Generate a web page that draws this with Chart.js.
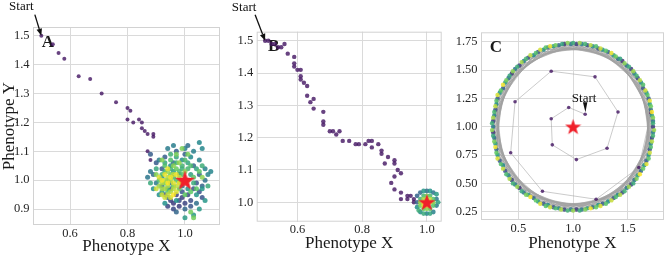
<!DOCTYPE html>
<html>
<head>
<meta charset="utf-8">
<script src="https://cdn.jsdelivr.net/npm/chart.js@4.4.1/dist/chart.umd.min.js"></script>
<style>
  body { margin: 0; background: #fff; width: 669px; height: 255px; overflow: hidden; position: relative; }
  canvas { position: absolute; top: 0; }
</style>
</head>
<body>
<canvas id="panel-a" width="225" height="255" style="left:0"></canvas>
<canvas id="panel-b" width="222" height="255" style="left:225px"></canvas>
<canvas id="panel-c" width="222" height="255" style="left:447px"></canvas>
<script>
const serif = "'Liberation Serif', 'DejaVu Serif', serif";
Chart.defaults.font.family = serif;
Chart.defaults.color = '#262626';

// panel A: walk from the start, then the cloud around the optimum
const pathA = [[0.50,1.50],[0.54,1.47],[0.56,1.44],[0.58,1.42],[0.63,1.36],[0.67,1.35],[0.71,1.30],[0.76,1.27],[0.80,1.25],[0.81,1.24],[0.80,1.21],[0.82,1.20],[0.84,1.21],[0.85,1.20],[0.85,1.18],[0.86,1.17],[0.87,1.16],[0.89,1.16],[0.89,1.15],[0.87,1.10],[0.88,1.07]];
const cloudA = [
  [0.96,0.92],[0.98,0.91],[0.95,0.93],[0.99,0.94],[0.97,0.95],[1.00,0.92],[0.94,0.91],[1.01,0.95],[0.96,0.90],[0.98,0.93],[1.02,0.93],[0.93,0.95],[1.03,0.97],[1.05,0.96],[1.04,0.99],[1.06,0.94],[1.02,0.91],[0.99,0.96],[0.95,0.97],[0.92,1.04],[0.90,1.06],[0.88,1.09],[0.93,1.08],[0.97,1.10],[1.00,1.09],[1.05,1.02],[1.06,0.98],[0.97,0.89],[1.00,0.90],[0.94,0.94],[1.03,1.05],[0.96,1.06],[0.89,1.02],[1.01,1.12],[0.98,1.02],[1.04,0.92],[0.92,0.98],[1.07,1.00],[0.95,0.99],[0.99,0.98],
  [0.87,1.01],[0.88,1.03],[0.90,0.99],[0.91,1.07],[0.94,1.11],[0.96,1.12],[1.00,1.11],[1.03,1.10],[1.05,1.07],[1.07,1.04],[1.08,1.02],[1.09,1.03],[1.06,1.11],[1.05,1.13],[1.02,1.08],[0.99,1.07],[0.95,1.05],[0.92,1.01],[0.89,0.97],[0.91,0.95],[0.93,0.92],[0.97,0.93],[1.01,0.97],[1.04,0.95],[1.06,0.97],[1.07,0.93],[1.05,0.90],[1.03,0.88],[1.00,0.87],[0.98,0.99],[0.96,1.03],[0.94,0.97],[0.92,0.96],[1.02,1.02],[1.04,1.04],[1.01,1.06],[0.97,1.08],[0.93,1.06],[0.90,1.04],[0.88,0.99],[1.08,0.98],[1.03,0.99],[0.99,1.04],[1.06,1.05],[0.95,1.09],
  [0.93,1.03],[0.95,1.04],[0.97,1.06],[0.99,1.05],[1.01,1.04],[0.96,1.01],[0.94,1.00],[0.92,1.02],[0.98,1.03],[1.00,1.07],[1.02,1.05],[0.95,1.07],[0.93,1.05],[0.91,1.00],[0.97,1.00],[0.99,1.02],[0.96,0.98],[0.94,0.96],[1.03,1.01],[1.05,1.03],[1.04,0.97],[1.02,0.96],[1.00,0.95],[0.98,0.97],[0.97,1.04],[0.95,1.02],[0.93,0.99],[1.02,0.89],[1.03,0.87],[1.01,1.09],[0.97,1.09],[0.99,1.11],[0.92,1.07],[0.90,1.02],[0.96,1.05],[1.00,1.03],[1.06,1.01],[0.98,1.06],[0.94,1.03],[1.01,1.00],
  [0.91,0.98],[0.92,0.97],[0.93,0.97],[0.94,0.98],[0.95,0.96],[0.93,1.00],[0.92,0.99],[0.94,1.01],[0.96,0.97],[0.95,1.00],[0.97,0.98],[0.96,1.02],[0.98,1.01],[0.94,0.95],[0.92,0.95],[0.90,0.97],[0.93,0.94],[0.95,0.94],[0.97,0.96],[0.99,1.00],[0.91,1.01],[0.96,0.99],[0.94,1.04],[0.97,1.02],[0.93,1.02],[0.95,1.01],[0.92,1.00],[0.98,0.99],[0.96,0.95],[0.94,0.99]
];

// panel B
const pathB = [[0.50,1.50],[0.51,1.50],[0.52,1.49],[0.53,1.49],[0.54,1.48],[0.55,1.48],[0.56,1.49],[0.57,1.46],[0.59,1.45],[0.59,1.43],[0.59,1.42],[0.60,1.41],[0.61,1.41],[0.61,1.39],[0.61,1.38],[0.62,1.37],[0.63,1.36],[0.63,1.33],[0.65,1.32],[0.64,1.31],[0.65,1.29],[0.68,1.28],[0.68,1.25],[0.68,1.24],[0.70,1.22],[0.71,1.22],[0.72,1.21],[0.73,1.22],[0.74,1.19],[0.76,1.19],[0.78,1.18],[0.79,1.18],[0.81,1.18],[0.82,1.19],[0.83,1.19],[0.83,1.17],[0.85,1.18],[0.86,1.16],[0.86,1.15],[0.88,1.14],[0.87,1.12],[0.90,1.13],[0.90,1.12],[0.91,1.10],[0.92,1.09],[0.90,1.08],[0.89,1.06],[0.90,1.04],[0.92,1.03],[0.92,1.01],[0.94,1.01],[0.94,1.02],[0.95,1.02],[0.96,1.01],[0.96,1.00]];
const cloudB = [
  [0.97,1.00],[0.97,1.02],[0.98,1.03],[1.00,1.035],[1.02,1.03],[1.03,1.01],[1.03,0.99],[1.02,0.97],[1.00,0.965],[0.98,0.97],[0.97,0.985],[1.01,1.035],[0.99,1.035],[1.03,1.025],[1.035,1.00],[1.01,0.965],[0.99,0.965],[0.975,0.975],
  [0.98,1.01],[0.99,1.02],[1.01,1.02],[1.02,1.01],[1.02,0.99],[1.01,0.98],[0.99,0.98],[0.98,0.99],[1.00,1.02],[1.02,1.00],[1.00,0.98],[0.98,1.00],
  [0.99,1.01],[1.00,1.01],[1.01,1.01],[1.01,1.00],[1.00,0.99],[0.99,0.99],[0.99,1.00],[1.00,1.00]
];

// panel C: inward spiral start, then the limit cycle (two laps)
const spiralC = [[1.11,1.11],[0.96,1.17],[0.80,1.07],[0.81,0.84],[1.03,0.71],[1.31,0.81],[1.41,1.13],[1.20,1.44],[0.80,1.49],[0.47,1.22],[0.43,0.77],[0.72,0.43],[1.21,0.36],[1.60,0.64],[1.71,1.12]];
const ringC = [
  [1.45,1.58],[0.92,1.73],[0.44,1.47],[0.27,0.95],[0.51,0.46],[1.03,0.27],[1.53,0.49],[1.73,1.00],[1.53,1.51],[1.03,1.73],[0.51,1.54],[0.27,1.05],[0.44,0.53],[0.92,0.27],[1.45,0.42],[1.72,0.90],[1.59,1.43],[1.13,1.72],[0.59,1.61],[0.29,1.15],[0.38,0.61],[0.82,0.29],[1.37,0.37],[1.70,0.80],[1.64,1.34],[1.23,1.69],[0.68,1.66],[0.31,1.25],[0.33,0.70],[0.73,0.32],[1.27,0.32],[1.67,0.70],[1.69,1.25],[1.32,1.66],[0.77,1.70],[0.36,1.34],[0.30,0.80],[0.64,0.37],[1.18,0.29],[1.62,0.61],[1.71,1.15],[1.41,1.60],[0.87,1.72],[0.41,1.43],[0.28,0.90],[0.55,0.42],[1.08,0.27],[1.56,0.53],[1.73,1.05],[1.49,1.54],[0.98,1.73],[0.47,1.51],[0.27,1.00],[0.47,0.49],[0.98,0.27],[1.49,0.46],[1.73,0.95],[1.56,1.47],[1.08,1.73],[0.55,1.58],[0.28,1.10],[0.41,0.57],[0.87,0.28],[1.41,0.40],[1.71,0.85],[1.62,1.39],[1.18,1.71],[0.64,1.63],[0.30,1.20],[0.36,0.66],[0.77,0.31],[1.32,0.34],[1.69,0.75],[1.67,1.30],[1.27,1.68],[0.73,1.68],[0.33,1.30],[0.31,0.75],[0.68,0.34],[1.23,0.31],[1.65,0.66],[1.70,1.20],[1.37,1.63],[0.82,1.71],[0.38,1.39],[0.29,0.85],[0.59,0.40],[1.13,0.28],[1.59,0.57],[1.72,1.10],
  [1.43,1.60],[0.90,1.73],[0.42,1.45],[0.27,0.92],[0.53,0.43],[1.06,0.26],[1.55,0.50],[1.73,1.03],[1.51,1.53],[1.00,1.74],[0.49,1.53],[0.26,1.03],[0.45,0.50],[0.95,0.26],[1.47,0.43],[1.73,0.92],[1.58,1.45],[1.11,1.73],[0.57,1.60],[0.28,1.13],[0.39,0.58],[0.84,0.28],[1.39,0.38],[1.71,0.82],[1.64,1.37],[1.21,1.71],[0.66,1.65],[0.30,1.23],[0.34,0.67],[0.75,0.30],[1.30,0.32],[1.69,0.72],[1.68,1.28],[1.30,1.67],[0.75,1.70],[0.34,1.32],[0.30,0.77],[0.66,0.35],[1.21,0.29],[1.64,0.63],[1.71,1.18],[1.39,1.62],[0.84,1.72],[0.39,1.41],[0.28,0.87],[0.57,0.40],[1.11,0.27],[1.58,0.54],[1.73,1.08],[1.47,1.56],[0.95,1.74],[0.45,1.49],[0.26,0.97],[0.49,0.47],[1.00,0.26],[1.51,0.47],[1.74,0.97],[1.55,1.49],[1.06,1.74],[0.53,1.57],[0.27,1.08],[0.42,0.54],[0.89,0.27],[1.43,0.40],[1.72,0.87],[1.61,1.41],[1.16,1.72],[0.61,1.63],[0.29,1.18],[0.36,0.63],[0.79,0.29],[1.35,0.35],[1.70,0.77],[1.66,1.32],[1.25,1.69],[0.70,1.68],[0.31,1.28],[0.31,0.72],[0.70,0.32],[1.25,0.30],[1.67,0.67],[1.70,1.23],[1.35,1.65],[0.79,1.71],[0.36,1.37],[0.29,0.82],[0.61,0.38],[1.16,0.28],[1.61,0.58],[1.72,1.13]
];

const optimum = [[1.0, 1.0]];

const xTicksA = [0.6, 0.8, 1.0];
const yTicksA = [0.9, 1.0, 1.1, 1.2, 1.3, 1.4, 1.5];
const xTicksB = [0.6, 0.8, 1.0];
const yTicksB = [1.0, 1.1, 1.2, 1.3, 1.4, 1.5];
const xTicksC = [0.5, 1.0, 1.5];
const yTicksC = [0.25, 0.50, 0.75, 1.00, 1.25, 1.50, 1.75];

const viridisStops = [[68,1,84],[59,82,139],[33,145,140],[94,201,98],[253,231,37]];
const viridis = (t, a) => {
  const p = Math.max(0, Math.min(1, t)) * 4;
  const i = Math.min(3, Math.floor(p));
  const f = p - i;
  const c = viridisStops[i].map((v, k) => Math.round(v + (viridisStops[i + 1][k] - v) * f));
  return `rgba(${c.join(',')},${a})`;
};
const early = viridis(0.06, 0.8);
const ramp = (n, from) => [...Array(n).keys()].map(i => viridis(from + (1 - from) * i / (n - 1), 0.85));

const toXY = (arr) => arr.map(([x, y]) => ({x, y}));

const starImage = (size) => {
  const c = document.createElement('canvas');
  c.width = c.height = size;
  const g = c.getContext('2d');
  g.fillStyle = '#f0202a';
  g.beginPath();
  for (let i = 0; i < 10; i++) {
    const r = i % 2 ? size * 0.2 : size * 0.5;
    const a = -Math.PI / 2 + i * Math.PI / 5;
    g.lineTo(size / 2 + r * Math.cos(a), size / 2 + r * Math.sin(a) + size * 0.04);
  }
  g.closePath();
  g.fill();
  return c;
};

const gridColor = '#dadada';

const decor = {
  id: 'decor',
  beforeDatasetsDraw(chart, args, o) {
    const {ctx, chartArea: ca} = chart;
    ctx.save();
    ctx.strokeStyle = '#d2d2d2';
    ctx.lineWidth = 1;
    ctx.strokeRect(ca.left + 0.5, ca.top + 0.5, ca.width - 1, ca.height - 1);
    ctx.fillStyle = '#1a1a1a';
    ctx.font = `bold 17px ${serif}`;
    ctx.textAlign = 'center';
    ctx.textBaseline = 'middle';
    ctx.fillText(o.letter, ca.left + o.letterAt[0], ca.top + o.letterAt[1]);
    ctx.restore();
  },
  afterDraw(chart, args, o) {
    const {ctx, scales: {x, y}} = chart;
    const hx = x.getPixelForValue(o.start[0]);
    const hy = y.getPixelForValue(o.start[1]);
    ctx.save();
    ctx.fillStyle = '#111';
    ctx.strokeStyle = '#111';
    ctx.font = `13px ${serif}`;
    ctx.textAlign = 'center';
    ctx.textBaseline = 'middle';
    ctx.fillText('Start', hx + o.text[0], hy + o.text[1]);
    if (o.wedge) {
      ctx.beginPath();
      ctx.moveTo(hx - 2.2, hy - 12);
      ctx.lineTo(hx + 2.2, hy - 12);
      ctx.lineTo(hx + 0.3, hy - 2);
      ctx.closePath();
      ctx.fill();
    } else {
      const tx = hx + o.tail[0], ty = hy + o.tail[1];
      const ang = Math.atan2(hy - ty, hx - tx);
      const L = 7, W = 2.8;
      const bx = hx - L * Math.cos(ang), by = hy - L * Math.sin(ang);
      ctx.lineWidth = 1.3;
      ctx.beginPath();
      ctx.moveTo(tx, ty);
      ctx.lineTo(bx, by);
      ctx.stroke();
      ctx.beginPath();
      ctx.moveTo(hx, hy);
      ctx.lineTo(bx + W * Math.sin(ang), by - W * Math.cos(ang));
      ctx.lineTo(bx - W * Math.sin(ang), by + W * Math.cos(ang));
      ctx.closePath();
      ctx.fill();
    }
    ctx.restore();
  }
};

const axis = (min, max, ticks, digits, size, title, titlePad, tickPad) => ({
  type: 'linear',
  min, max,
  afterBuildTicks: (s) => { s.ticks = ticks.map(value => ({value})); },
  afterFit: (s) => { if (s.isHorizontal()) s.height = size; else s.width = size; },
  grid: { color: gridColor, lineWidth: 1, drawTicks: false },
  border: { display: false },
  ticks: {
    padding: tickPad,
    color: '#262626',
    font: { size: 12.5 },
    callback: (v) => Number(v).toFixed(digits)
  },
  title: title
    ? { display: true, text: title, color: '#1a1a1a', font: { size: 17, lineHeight: 1 }, padding: titlePad }
    : { display: false }
});

const panel = (id, cfg) => new Chart(document.getElementById(id), {
  type: 'scatter',
  data: { datasets: cfg.datasets },
  options: {
    responsive: false,
    animation: false,
    devicePixelRatio: 1,
    layout: { padding: cfg.padding },
    plugins: { legend: { display: false }, tooltip: { enabled: false }, decor: cfg.decor },
    scales: { x: cfg.x, y: cfg.y }
  },
  plugins: [decor]
});

const dots = (arr, colors, r, order) => ({
  data: toXY(arr),
  pointBackgroundColor: colors,
  pointBorderWidth: 0,
  pointRadius: r,
  order
});

const star = (size) => ({
  data: toXY(optimum),
  pointStyle: starImage(size),
  order: 0
});

panel('panel-a', {
  padding: { top: 27, right: 5 },
  x: axis(0.471, 1.122, xTicksA, 1, 30, 'Phenotype X', { top: 0, bottom: 0 }, 1),
  y: axis(0.845, 1.53, yTicksA, 1, 33, 'Phenotype Y', { top: 1, bottom: 0 }, 3.5),
  datasets: [
    star(21),
    dots(cloudA, ramp(cloudA.length, 0.18), 2.5, 1),
    dots(pathA, early, 2, 2)
  ],
  decor: { letter: 'A', letterAt: [15, 16], start: pathA[0], text: [-20, -29], tail: [-6.5, -21] }
});

panel('panel-b', {
  padding: { top: 31.7, right: 5.3 },
  x: axis(0.474, 1.046, xTicksB, 1, 33.3, 'Phenotype X', { top: 0, bottom: 3 }, 1),
  y: axis(0.94, 1.528, yTicksB, 1, 31.7, null, null, 3.5),
  datasets: [
    star(18),
    dots(cloudB, ramp(cloudB.length, 0.3), 2.4, 1),
    dots(pathB, early, 2.2, 2)
  ],
  decor: { letter: 'B', letterAt: [17, 15], start: pathB[0], text: [-21, -33], tail: [-10, -26] }
});

const pathC = spiralC.concat(ringC);
panel('panel-c', {
  padding: { top: 32.3, right: 2 },
  x: axis(0.159, 1.83, xTicksC, 1, 35, 'Phenotype X', { top: 0, bottom: 3 }, 1),
  y: axis(0.177, 1.833, yTicksC, 2, 34, null, null, 3.5),
  datasets: [
    star(17),
    dots(ringC, ramp(ringC.length, 0.15), 2.2, 1),
    dots(spiralC, early, 1.8, 2),
    {
      data: toXY(pathC),
      showLine: true,
      pointRadius: 0,
      borderColor: 'rgba(160,160,160,0.55)',
      borderWidth: 1,
      order: 3
    }
  ],
  decor: { letter: 'C', letterAt: [15, 15], start: spiralC[0], text: [-1, -16], wedge: true }
});
</script>
</body>
</html>
